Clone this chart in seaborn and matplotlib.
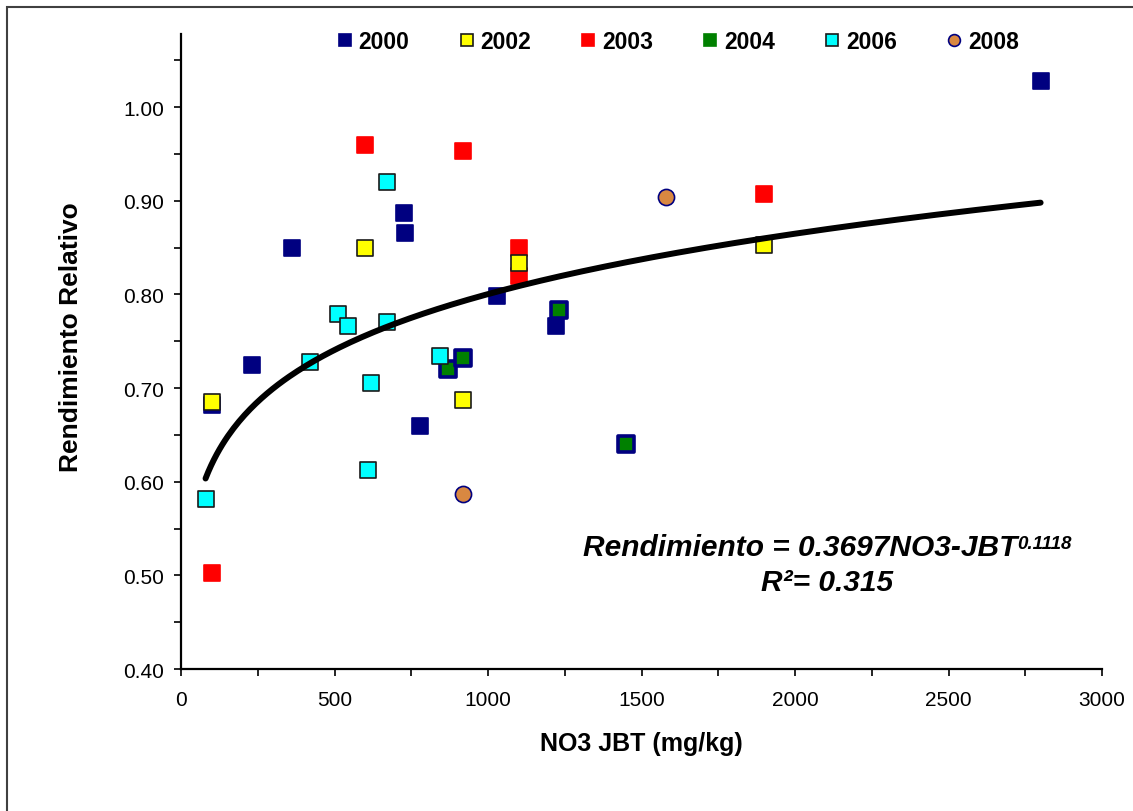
import matplotlib
matplotlib.use("Agg")
import matplotlib.pyplot as plt
import numpy as np
import pandas as pd
import seaborn as sns
from matplotlib.lines import Line2D
from matplotlib.patches import Rectangle

sns.set_theme(style="white")
plt.rcParams['font.family'] = ['Liberation Sans', 'DejaVu Sans']
plt.rcParams['text.color'] = 'black'
plt.rcParams['axes.labelcolor'] = 'black'
plt.rcParams['xtick.color'] = 'black'
plt.rcParams['ytick.color'] = 'black'

# data (NO3 JBT mg/kg, rendimiento relativo)
x_2000 = [100, 230, 360, 725, 730, 780, 1030, 1220, 2800]
y_2000 = [0.682, 0.725, 0.850, 0.887, 0.866, 0.659, 0.798, 0.766, 1.028]
x_2002 = [100, 600, 920, 1100, 1900]
y_2002 = [0.685, 0.850, 0.687, 0.834, 0.853]
x_2003 = [100, 600, 920, 1100, 1100, 1900]
y_2003 = [0.503, 0.960, 0.953, 0.850, 0.820, 0.907]
x_2004 = [870, 920, 1230, 1450]
y_2004 = [0.720, 0.732, 0.783, 0.640]
x_2006 = [80, 420, 510, 545, 610, 620, 670, 670, 845]
y_2006 = [0.581, 0.728, 0.779, 0.766, 0.613, 0.705, 0.770, 0.920, 0.734]
x_2008 = [920, 1580]
y_2008 = [0.587, 0.904]

# power trendline shown in the chart
coef_a = 0.3697
coef_b = 0.1118
r2 = 0.315

years = ['2000', '2002', '2003', '2004', '2006', '2008']
fills = {'2000': '#000080', '2002': '#FFFF00', '2003': '#FF0000',
         '2004': '#008000', '2006': '#00FFFF', '2008': '#D98841'}
edges = {'2000': '#000080', '2002': '#1a1a1a', '2003': '#FF0000',
         '2004': '#000080', '2006': '#1a1a1a', '2008': '#000080'}
markers = {'2000': 's', '2002': 's', '2003': 's', '2004': 's', '2006': 's', '2008': 'o'}
series = {'2000': (x_2000, y_2000), '2002': (x_2002, y_2002), '2003': (x_2003, y_2003),
          '2004': (x_2004, y_2004), '2006': (x_2006, y_2006), '2008': (x_2008, y_2008)}

fig = plt.figure(figsize=(11.33, 8.12), dpi=100)
ax = fig.add_axes([181 / 1133, 1 - 670 / 812, 921 / 1133, 635 / 812])

# drawing order so overlaps look like the original
for yr in ['2000', '2003', '2004', '2002', '2006', '2008']:
    xs, ys = series[yr]
    df = pd.DataFrame({'x': xs, 'y': ys})
    size = 118 if yr == '2004' else 135
    lw = 2.6 if yr == '2004' else 1.2
    sns.scatterplot(data=df, x='x', y='y', ax=ax, marker=markers[yr], s=size,
                    color=fills[yr], edgecolor=edges[yr], linewidth=lw, zorder=3)

all_x = x_2000 + x_2002 + x_2003 + x_2004 + x_2006 + x_2008
xfit = np.linspace(min(all_x), max(all_x), 300)
ax.plot(xfit, coef_a * xfit ** coef_b, color='black', lw=4.3, zorder=4,
        solid_capstyle='round')

ax.set_xlim(0, 3000)
ax.set_ylim(0.4, 1.078)
ax.set_xticks(np.arange(0, 3001, 500))
ax.set_xticks(np.arange(0, 3001, 250), minor=True)
ax.set_yticks(np.arange(0.4, 1.001, 0.1))
ax.set_yticks(np.arange(0.4, 1.051, 0.05), minor=True)
ax.set_yticklabels([f'{v:.2f}' for v in np.arange(0.4, 1.001, 0.1)])

for s in ['top', 'right']:
    ax.spines[s].set_visible(False)
for s in ['left', 'bottom']:
    ax.spines[s].set_color('black')
    ax.spines[s].set_linewidth(1.6)

ax.tick_params(axis='both', which='both', direction='out', length=5, width=1.2,
               color='black', labelsize=15, labelcolor='black')
ax.tick_params(axis='y', which='both', left=True, pad=7)
ax.tick_params(axis='x', which='both', bottom=True, pad=10)
ax.grid(False)

ax.set_xlabel('NO3 JBT (mg/kg)', fontsize=18, fontweight='bold', labelpad=16)
ax.set_ylabel('Rendimiento Relativo', fontsize=19, fontweight='bold')
ax.yaxis.set_label_coords(-0.106, 0.524)

handles = []
for yr in years:
    handles.append(Line2D([], [], ls='none', marker=markers[yr], markersize=8.5,
                          markerfacecolor=fills[yr],
                          markeredgecolor=edges[yr] if yr != '2004' else '#008000',
                          markeredgewidth=1.2, label=yr))
ax.legend(handles=handles, loc='upper center', bbox_to_anchor=(0.54, 1.038), ncol=6,
          frameon=False, prop={'size': 16.5, 'weight': 'bold'}, handlelength=0.6,
          handletextpad=0.3, columnspacing=2.2)

eq = ax.text(2724, 0.530, 'Rendimiento = ' + f'{coef_a}' + 'NO3-JBT', ha='right', va='center',
             fontsize=21.5, fontweight='bold', fontstyle='italic')
ax.annotate(f'{coef_b}', xy=(1.0, 0.92), xycoords=eq, ha='left', va='top',
            fontsize=13.5, fontweight='bold', fontstyle='italic')
ax.text(2104, 0.493, f'R²= {r2}', ha='center', va='center',
        fontsize=21.5, fontweight='bold', fontstyle='italic')

# outer chart border
fig.patches.append(Rectangle((7 / 1133, -0.05), 1.2, 1.05 - 8 / 812, transform=fig.transFigure,
                             fill=False, edgecolor='#404040', lw=1.5))

fig.savefig('out.png', dpi=100)
